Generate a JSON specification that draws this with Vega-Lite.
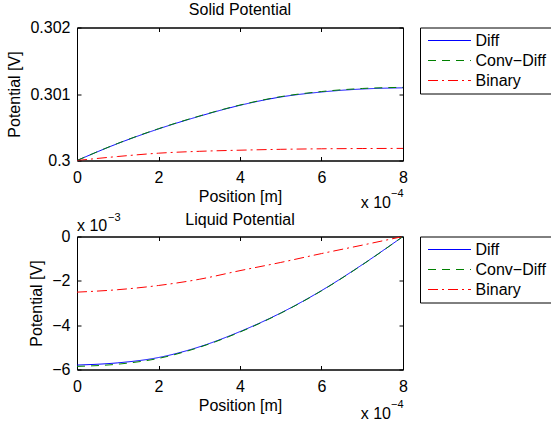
{
  "$schema": "https://vega.github.io/schema/vega-lite/v6.json",
  "background": "white",
  "padding": {"left": 6, "top": 1.5, "right": 0, "bottom": 0},
  "bounds": "flush",
  "spacing": 76,
  "config": {
    "font": "Liberation Sans",
    "view": {"stroke": "black", "strokeWidth": 1},
    "axis": {
      "domainColor": "black", "tickColor": "black", "labelColor": "black", "titleColor": "black",
      "labelFont": "Liberation Sans", "titleFont": "Liberation Sans",
      "labelFontSize": 16, "titleFontSize": 16, "titleFontWeight": "normal",
      "grid": false, "tickSize": -4, "labelPadding": 11, "labelFlush": false, "labelOverlap": false
    },
    "axisX": {"labelPadding": 13, "titlePadding": 3},
    "axisY": {"titlePadding": 7},
    "title": {"font": "Liberation Sans", "fontSize": 16, "fontWeight": "normal", "color": "black"},
    "legend": {
      "orient": "none", "legendX": 343, "legendY": 0,
      "strokeColor": "black", "fillColor": "white", "padding": 5, "rowPadding": 4,
      "labelFont": "Liberation Sans", "labelFontSize": 16, "labelColor": "black",
      "symbolType": "M-3.07,0H3.07", "symbolSize": 196, "symbolStrokeWidth": 1,
      "symbolOffset": 16.5, "labelOffset": 18, "cornerRadius": 0
    }
  },
  "vconcat": [
    {
      "title": {"text": "Solid Potential", "offset": 1.5},
      "width": 326,
      "height": 133,
      "layer": [
        {
          "data": {"values": [
            {"position": 0, "potential": 0.3, "model": "Diff"},
            {"position": 0.0001, "potential": 0.300255, "model": "Diff"},
            {"position": 0.0002, "potential": 0.300475, "model": "Diff"},
            {"position": 0.0003, "potential": 0.300665, "model": "Diff"},
            {"position": 0.0004, "potential": 0.30083, "model": "Diff"},
            {"position": 0.0005, "potential": 0.300955, "model": "Diff"},
            {"position": 0.0006, "potential": 0.30103, "model": "Diff"},
            {"position": 0.0007, "potential": 0.301075, "model": "Diff"},
            {"position": 0.0008, "potential": 0.301093, "model": "Diff"},
            {"position": 0, "potential": 0.3, "model": "Conv−Diff"},
            {"position": 0.0001, "potential": 0.300257, "model": "Conv−Diff"},
            {"position": 0.0002, "potential": 0.300478, "model": "Conv−Diff"},
            {"position": 0.0003, "potential": 0.300668, "model": "Conv−Diff"},
            {"position": 0.0004, "potential": 0.300834, "model": "Conv−Diff"},
            {"position": 0.0005, "potential": 0.30096, "model": "Conv−Diff"},
            {"position": 0.0006, "potential": 0.301037, "model": "Conv−Diff"},
            {"position": 0.0007, "potential": 0.301083, "model": "Conv−Diff"},
            {"position": 0.0008, "potential": 0.3011, "model": "Conv−Diff"},
            {"position": 0, "potential": 0.3, "model": "Binary"},
            {"position": 0.0001, "potential": 0.30006, "model": "Binary"},
            {"position": 0.0002, "potential": 0.30011, "model": "Binary"},
            {"position": 0.0003, "potential": 0.300138, "model": "Binary"},
            {"position": 0.0004, "potential": 0.300155, "model": "Binary"},
            {"position": 0.0005, "potential": 0.300168, "model": "Binary"},
            {"position": 0.0006, "potential": 0.300176, "model": "Binary"},
            {"position": 0.0007, "potential": 0.30018, "model": "Binary"},
            {"position": 0.0008, "potential": 0.300182, "model": "Binary"}
          ]},
          "mark": {"type": "line", "strokeWidth": 1, "interpolate": "monotone", "clip": true},
          "encoding": {
            "x": {"field": "position", "type": "quantitative",
              "scale": {"domain": [0, 0.0008], "nice": false, "zero": false},
              "axis": {"orient": "bottom", "values": [0, 0.0002, 0.0004, 0.0006, 0.0008], "labelExpr": "format(datum.value*10000, 'd')", "title": "Position [m]"}},
            "y": {"field": "potential", "type": "quantitative",
              "scale": {"domain": [0.3, 0.302], "nice": false, "zero": false},
              "axis": {"orient": "left", "values": [0.3, 0.301, 0.302], "labelExpr": "format(datum.value, '.3~f')", "title": "Potential [V]"}},
            "color": {"field": "model", "type": "nominal",
              "scale": {"domain": ["Diff", "Conv−Diff", "Binary"], "range": ["#0000ff", "#008000", "#ff0000"]},
              "legend": {"title": null, "encode": {"symbols": {"update": {
                "strokeDash": {"signal": "datum.value === 'Binary' ? [10,4,2,4] : datum.value === 'Diff' ? [1,0] : [8,6]"},
                "stroke": {"signal": "datum.value === 'Binary' ? '#ff0000' : datum.value === 'Diff' ? '#0000ff' : '#008000'"}}}}}},
            "strokeDash": {"field": "model", "type": "nominal",
              "scale": {"domain": ["Diff", "Conv−Diff", "Binary"], "range": [[1, 0], [8, 6], [10, 4, 2, 4]]},
              "legend": null}
          }
        },
        {
          "data": {"values": [{"label": "x 10"}]},
          "mark": {"type": "text", "align": "right", "baseline": "alphabetic", "dx": -12, "dy": 47, "fontSize": 16, "color": "black"},
          "encoding": {
            "text": {"field": "label"},
            "x": {"datum": 0.0008, "type": "quantitative", "axis": {"orient": "top", "labels": false, "title": null, "values": [0, 0.0002, 0.0004, 0.0006, 0.0008]}},
            "y": {"datum": 0.3, "type": "quantitative", "axis": {"orient": "right", "labels": false, "title": null, "values": [0.3, 0.301, 0.302]}}
          }
        },
        {
          "data": {"values": [{"label": "−4"}]},
          "mark": {"type": "text", "align": "left", "baseline": "alphabetic", "dx": -12, "dy": 36, "fontSize": 11, "color": "black"},
          "encoding": {
            "text": {"field": "label"},
            "x": {"datum": 0.0008, "type": "quantitative", "axis": null},
            "y": {"datum": 0.3, "type": "quantitative", "axis": null}
          }
        }
      ],
      "resolve": {"axis": {"x": "independent", "y": "independent"}}
    },
    {
      "title": {"text": "Liquid Potential", "offset": 9, "dy": 25.5},
      "width": 326,
      "height": 133,
      "layer": [
        {
          "data": {"values": [{"label": "x 10"}]},
          "mark": {"type": "text", "align": "left", "baseline": "alphabetic", "dx": 0, "dy": -6, "fontSize": 16, "color": "black"},
          "encoding": {
            "text": {"field": "label"},
            "x": {"datum": 0, "type": "quantitative", "axis": {"orient": "top", "labels": false, "title": null, "values": [0, 0.0002, 0.0004, 0.0006, 0.0008]}},
            "y": {"datum": 0, "type": "quantitative", "axis": {"orient": "right", "labels": false, "title": null, "values": [-0.006, -0.004, -0.002, 0]}}
          }
        },
        {
          "data": {"values": [{"label": "−3"}]},
          "mark": {"type": "text", "align": "left", "baseline": "alphabetic", "dx": 31, "dy": -16, "fontSize": 11, "color": "black"},
          "encoding": {
            "text": {"field": "label"},
            "x": {"datum": 0, "type": "quantitative", "axis": null},
            "y": {"datum": 0, "type": "quantitative", "axis": null}
          }
        },
        {
          "data": {"values": [{"label": "x 10"}]},
          "mark": {"type": "text", "align": "right", "baseline": "alphabetic", "dx": -12, "dy": 49, "fontSize": 16, "color": "black"},
          "encoding": {
            "text": {"field": "label"},
            "x": {"datum": 0.0008, "type": "quantitative", "axis": null},
            "y": {"datum": -0.006, "type": "quantitative", "axis": null}
          }
        },
        {
          "data": {"values": [{"label": "−4"}]},
          "mark": {"type": "text", "align": "left", "baseline": "alphabetic", "dx": -12, "dy": 38, "fontSize": 11, "color": "black"},
          "encoding": {
            "text": {"field": "label"},
            "x": {"datum": 0.0008, "type": "quantitative", "axis": null},
            "y": {"datum": -0.006, "type": "quantitative", "axis": null}
          }
        },
        {
          "data": {"values": [
            {"position": 0, "potential": -0.0058, "model": "Diff"},
            {"position": 0.0001, "potential": -0.0057, "model": "Diff"},
            {"position": 0.0002, "potential": -0.00546, "model": "Diff"},
            {"position": 0.0003, "potential": -0.00498, "model": "Diff"},
            {"position": 0.0004, "potential": -0.00429, "model": "Diff"},
            {"position": 0.0005, "potential": -0.00345, "model": "Diff"},
            {"position": 0.0006, "potential": -0.00244, "model": "Diff"},
            {"position": 0.0007, "potential": -0.00127, "model": "Diff"},
            {"position": 0.0008, "potential": 0, "model": "Diff"},
            {"position": 0, "potential": -0.00586, "model": "Conv−Diff"},
            {"position": 0.0001, "potential": -0.00576, "model": "Conv−Diff"},
            {"position": 0.0002, "potential": -0.0055, "model": "Conv−Diff"},
            {"position": 0.0003, "potential": -0.005, "model": "Conv−Diff"},
            {"position": 0.0004, "potential": -0.00431, "model": "Conv−Diff"},
            {"position": 0.0005, "potential": -0.00346, "model": "Conv−Diff"},
            {"position": 0.0006, "potential": -0.00245, "model": "Conv−Diff"},
            {"position": 0.0007, "potential": -0.00128, "model": "Conv−Diff"},
            {"position": 0.0008, "potential": 0, "model": "Conv−Diff"},
            {"position": 0, "potential": -0.00251, "model": "Binary"},
            {"position": 0.0001, "potential": -0.0024, "model": "Binary"},
            {"position": 0.0002, "potential": -0.00221, "model": "Binary"},
            {"position": 0.0003, "potential": -0.00193, "model": "Binary"},
            {"position": 0.0004, "potential": -0.00154, "model": "Binary"},
            {"position": 0.0005, "potential": -0.00117, "model": "Binary"},
            {"position": 0.0006, "potential": -0.00077, "model": "Binary"},
            {"position": 0.0007, "potential": -0.00039, "model": "Binary"},
            {"position": 0.0008, "potential": 0, "model": "Binary"}
          ]},
          "mark": {"type": "line", "strokeWidth": 1, "interpolate": "monotone", "clip": true},
          "encoding": {
            "x": {"field": "position", "type": "quantitative",
              "scale": {"domain": [0, 0.0008], "nice": false, "zero": false},
              "axis": {"orient": "bottom", "values": [0, 0.0002, 0.0004, 0.0006, 0.0008], "labelExpr": "format(datum.value*10000, 'd')", "title": "Position [m]"}},
            "y": {"field": "potential", "type": "quantitative",
              "scale": {"domain": [-0.006, 0], "nice": false, "zero": false},
              "axis": {"orient": "left", "values": [-0.006, -0.004, -0.002, 0], "labelExpr": "format(datum.value*1000, 'd')", "title": "Potential [V]"}},
            "color": {"field": "model", "type": "nominal",
              "scale": {"domain": ["Diff", "Conv−Diff", "Binary"], "range": ["#0000ff", "#008000", "#ff0000"]},
              "legend": {"title": null, "encode": {"symbols": {"update": {
                "strokeDash": {"signal": "datum.value === 'Binary' ? [10,4,2,4] : datum.value === 'Diff' ? [1,0] : [8,6]"},
                "stroke": {"signal": "datum.value === 'Binary' ? '#ff0000' : datum.value === 'Diff' ? '#0000ff' : '#008000'"}}}}}},
            "strokeDash": {"field": "model", "type": "nominal",
              "scale": {"domain": ["Diff", "Conv−Diff", "Binary"], "range": [[1, 0], [8, 6], [10, 4, 2, 4]]},
              "legend": null}
          }
        }
      ],
      "resolve": {"axis": {"x": "independent", "y": "independent"}}
    }
  ],
  "resolve": {
    "scale": {"color": "independent", "strokeDash": "independent", "x": "independent", "y": "independent"},
    "legend": {"color": "independent", "strokeDash": "independent"}
  }
}
